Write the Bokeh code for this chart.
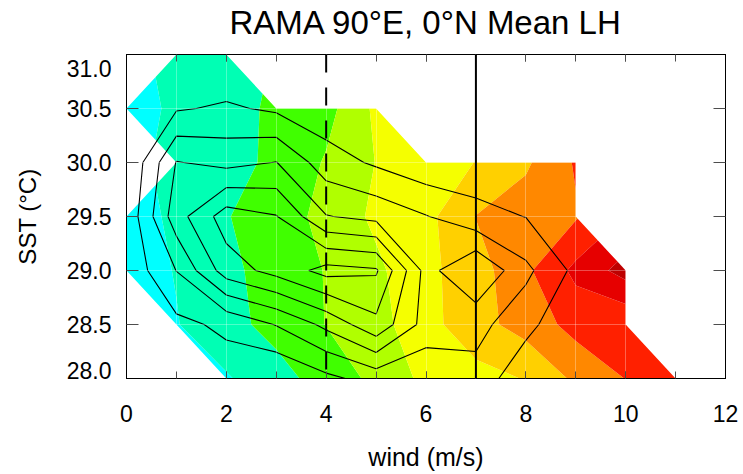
import numpy as np
from bokeh.plotting import figure
from bokeh.models import LinearAxis, Span, FixedTicker, Range1d
from bokeh.embed import file_html
from bokeh.resources import INLINE

nan = float("nan")

# grid axes
wind = [0, 1, 2, 3, 4, 5, 6, 7, 8, 9, 10, 11, 12]
sst = [28.0, 28.5, 29.0, 29.5, 30.0, 30.5, 31.0]

# mean latent heat flux (W/m2) per SST row, by wind bin (nan = no data)
lh_28_0 = [nan, nan, 38, 53, 68, 85, 105, 113, 121, 144, 160.5, 170, nan]
lh_28_5 = [nan, 39, 54, 66, 80.5, 93, 113, 133, 148, 167, 163, nan, nan]
lh_29_0 = [30, 41, 56, 67, 81, 96, 115, 131, 156, 185, 208, nan, nan]
lh_29_5 = [33, 43, 59, 70, 86, 104, 114, 140.5, 150, 158, nan, nan, nan]
lh_30_0 = [nan, 45, 55, 63, 82, 100.5, 110, 120.5, 137, 162, nan, nan, nan]
lh_30_5 = [33, 43, 54, 63, 73, 104, nan, nan, nan, nan, nan, nan, nan]
lh_31_0 = [nan, 45, 52, nan, nan, nan, nan, nan, nan, nan, nan, nan, nan]

# number of observations per bin
n_28_0 = [0, 0, 5, 0, 7.5, 14, 12, 16.7, 2.1, 0, 0, 0, 0]
n_28_5 = [0, 7.5, 12, 20.5, 32.5, 47.3, 26, 23.3, 13.3, 0.6, 0, 0, 0]
n_29_0 = [2.5, 20.2, 45, 53.5, 63.5, 61.3, 26.4, 40, 22.4, 7.5, 0, 0, 0]
n_29_5 = [2.4, 35.6, 55, 50.5, 30.5, 27, 20.5, 13, 9.8, 0, 0, 0, 0]
n_30_0 = [0, 30.5, 27, 30.3, 14.6, 8.5, 2.8, 4.2, 0, 0, 0, 0, 0]
n_30_5 = [0, 9, 11.5, 8.3, 3.6, 3, 0, 0, 0, 0, 0, 0, 0]
n_31_0 = [0, 0, 0, 0, 0, 0, 0, 0, 0, 0, 0, 0, 0]

lh_levels = [20, 40, 60, 80, 100, 120, 140, 160, 180, 200, 220]
lh_colors = ["#00FFFF", "#00FFB4", "#40FF00", "#B0FF00", "#F5FF00",
             "#FFD000", "#FF8800", "#FF2000", "#E60000", "#BE0000"]
n_levels = [10, 20, 30, 40, 50, 60]

wind_marks = [4, 7]  # dashed, solid

title_text = "RAMA 90°E, 0°N Mean LH"
x_major = [0, 2, 4, 6, 8, 10, 12]
x_minor = list(range(0, 13))
y_major = [28.0, 28.5, 29.0, 29.5, 30.0, 30.5, 31.0]
y_labels = ["28.0", "28.5", "29.0", "29.5", "30.0", "30.5", "31.0"]
# the end labels are drawn pulled inside the frame (as in the original)
y_label_pos = [28.072, 28.5, 29.0, 29.5, 30.0, 30.5, 30.868]

lh = np.array([lh_28_0, lh_28_5, lh_29_0, lh_29_5, lh_30_0, lh_30_5, lh_31_0], dtype=float)
cnt = np.array([n_28_0, n_28_5, n_29_0, n_29_5, n_30_0, n_30_5, n_31_0], dtype=float)

FONT = "Liberation Sans"

p = figure(frame_width=599, frame_height=324,
           x_range=Range1d(0, 12), y_range=Range1d(28, 31),
           output_backend="svg", toolbar_location=None,
           min_border_left=126, min_border_right=18,
           min_border_top=53, min_border_bottom=97)
p.outline_line_color = "black"
p.background_fill_color = "white"
p.border_fill_color = "white"

p.contour(wind, sst, lh, lh_levels, fill_color=lh_colors)
p.contour(wind, sst, cnt, n_levels, line_color="black", line_width=1.1)

# faint seams at bin centres
p.xgrid.ticker = FixedTicker(ticks=x_minor)
p.ygrid.ticker = FixedTicker(ticks=y_major)
for g in (p.xgrid, p.ygrid):
    g.grid_line_color = "white"
    g.grid_line_alpha = 0.3
    g.grid_line_width = 1
    g.level = "annotation"

p.add_layout(Span(location=wind_marks[0], dimension="height", line_color="black",
                  line_width=2, line_dash="18 15"))
p.add_layout(Span(location=wind_marks[1], dimension="height", line_color="black",
                  line_width=2))

xt = FixedTicker(ticks=x_major, minor_ticks=x_minor)
yt = FixedTicker(ticks=y_major)


def hide_labels(ax):
    ax.major_label_text_font_size = "1px"
    ax.major_label_text_color = None
    ax.major_label_standoff = 0


def style_x(ax):
    ax.ticker = xt
    ax.major_tick_in = 7
    ax.major_tick_out = 0
    ax.minor_tick_in = 7
    ax.minor_tick_out = 0
    ax.axis_line_color = "black"
    ax.major_tick_line_color = "black"
    ax.minor_tick_line_color = "black"


def style_y_ticks(ax):
    ax.ticker = yt
    ax.major_tick_in = 12
    ax.major_tick_out = 0
    ax.minor_tick_line_color = None
    ax.axis_line_color = "black"
    ax.major_tick_line_color = "black"
    hide_labels(ax)


bx = p.xaxis[0]
style_x(bx)
bx.major_label_text_font = FONT
bx.major_label_text_color = "black"
bx.major_label_text_font_size = "23px"
bx.major_label_standoff = 26
bx.axis_label = "wind (m/s)"
bx.axis_label_text_font = FONT
bx.axis_label_text_font_size = "25px"
bx.axis_label_text_font_style = "normal"
bx.axis_label_text_color = "black"
bx.axis_label_standoff = 18

# left: tick marks axis (next to the frame) + label axis outside it
ly = p.yaxis[0]
style_y_ticks(ly)

lab = LinearAxis()
lab.ticker = FixedTicker(ticks=y_label_pos)
lab.major_label_overrides = {v: s for v, s in zip(y_label_pos, y_labels)}
lab.major_tick_line_color = None
lab.minor_tick_line_color = None
lab.axis_line_color = None
lab.major_tick_out = 0
lab.major_tick_in = 0
lab.major_label_standoff = 15
lab.major_label_text_font = FONT
lab.major_label_text_font_size = "23px"
lab.major_label_text_color = "black"
lab.axis_label = "SST (°C)"
lab.axis_label_text_font = FONT
lab.axis_label_text_font_size = "24px"
lab.axis_label_text_font_style = "normal"
lab.axis_label_text_color = "black"
lab.axis_label_standoff = 23
p.add_layout(lab, "left")

# top: tick marks, and the chart title as its axis label
top = LinearAxis()
style_x(top)
hide_labels(top)
top.axis_label = title_text
top.axis_label_text_font = FONT
top.axis_label_text_font_size = "33px"
top.axis_label_text_font_style = "normal"
top.axis_label_text_color = "black"
top.axis_label_standoff = 14
p.add_layout(top, "above")

right = LinearAxis()
style_y_ticks(right)
p.add_layout(right, "right")

open("out.html", "w").write(file_html(p, INLINE))
